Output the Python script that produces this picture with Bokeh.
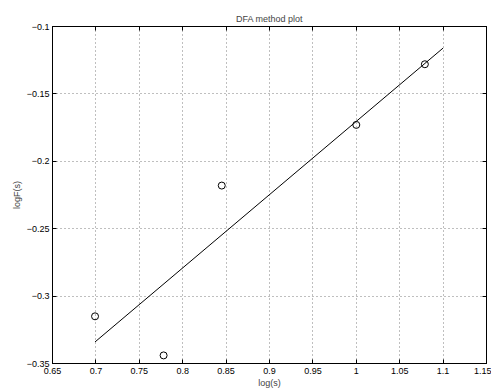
from bokeh.plotting import figure
from bokeh.models import LinearAxis, Range1d, FixedTicker
from bokeh.embed import file_html
from bokeh.resources import INLINE

# data
log_s = [0.699, 0.778, 0.845, 1.0, 1.079]
log_F = [-0.315, -0.344, -0.218, -0.173, -0.128]
fit_x = [0.699, 1.1]
fit_y = [-0.334, -0.116]

xticks = [0.65, 0.7, 0.75, 0.8, 0.85, 0.9, 0.95, 1.0, 1.05, 1.1, 1.15]
xtick_labels = ["0.65", "0.7", "0.75", "0.8", "0.85", "0.9", "0.95", "1", "1.05", "1.1", "1.15"]
yticks = [-0.35, -0.3, -0.25, -0.2, -0.15, -0.1]
ytick_labels = ["\u22120.35", "\u22120.3", "\u22120.25", "\u22120.2", "\u22120.15", "\u22120.1"]

FONT = "Liberation Sans"

p = figure(width=491, height=390, output_backend="svg", toolbar_location=None,
           x_range=Range1d(0.65, 1.15), y_range=Range1d(-0.35, -0.1),
           min_border_left=52, min_border_right=5, min_border_top=26, min_border_bottom=23,
           x_axis_label="log(s)", y_axis_label="logF(s)", title="DFA method plot")

p.title.align = "center"
p.title.text_font = FONT
p.title.text_font_size = "9px"
p.title.text_font_style = "normal"
p.title.offset = 0
p.title.standoff = 6

p.outline_line_color = "black"
p.outline_line_width = 1
p.outline_line_alpha = 1

for g in (p.xgrid, p.ygrid):
    g.grid_line_color = "black"
    g.grid_line_alpha = 0.5
    g.grid_line_dash = "1 3"
    g.grid_line_width = 1

p.xaxis.ticker = FixedTicker(ticks=xticks)
p.yaxis.ticker = FixedTicker(ticks=yticks)
p.xgrid.ticker = FixedTicker(ticks=xticks)
p.ygrid.ticker = FixedTicker(ticks=yticks)
p.xaxis.major_label_overrides = dict(zip(xticks, xtick_labels))
p.yaxis.major_label_overrides = dict(zip(yticks, ytick_labels))

for ax in (p.xaxis[0], p.yaxis[0]):
    ax.major_tick_in = 4
    ax.major_tick_out = 0
    ax.minor_tick_in = 0
    ax.minor_tick_out = 0
    ax.major_label_text_font = FONT
    ax.major_label_text_font_size = "9px"
    ax.major_label_text_color = "black"
    ax.axis_label_text_font = FONT
    ax.axis_label_text_font_size = "9px"
    ax.axis_label_text_font_style = "normal"
    ax.axis_line_color = "black"
    ax.major_tick_line_color = "black"
    ax.major_label_standoff = 3
    ax.axis_label_standoff = 1

p.xaxis.major_label_standoff = 4
p.yaxis.major_label_standoff = 3
p.yaxis.axis_label_standoff = 2

blank_x = {t: "" for t in xticks}
blank_y = {t: "" for t in yticks}
top = LinearAxis(ticker=FixedTicker(ticks=xticks), major_tick_in=4, major_tick_out=0,
                 minor_tick_in=0, minor_tick_out=0, major_label_overrides=blank_x,
                 major_label_standoff=0, axis_line_color="black")
right = LinearAxis(ticker=FixedTicker(ticks=yticks), major_tick_in=4, major_tick_out=0,
                   minor_tick_in=0, minor_tick_out=0, major_label_overrides=blank_y,
                   major_label_standoff=0, axis_line_color="black")
p.add_layout(top, "above")
p.add_layout(right, "right")

p.line(fit_x, fit_y, line_color="black", line_width=1)
p.scatter(log_s, log_F, marker="circle", size=7, fill_color=None,
          line_color="black", line_width=1)

open("out.html", "w").write(file_html(p, INLINE))
